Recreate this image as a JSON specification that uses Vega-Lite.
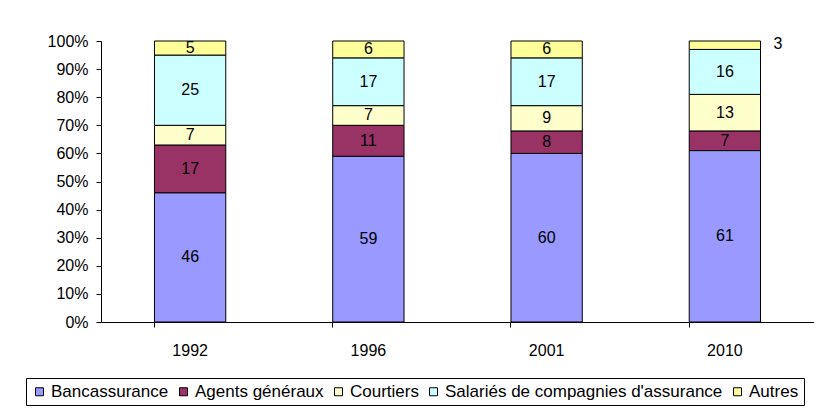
{
  "$schema": "https://vega.github.io/schema/vega-lite/v6.json",
  "width": 713,
  "height": 281,
  "autosize": {"type": "none"},
  "padding": {"left": 101, "top": 41, "right": 0, "bottom": 86},
  "background": "white",
  "config": {
    "font": "Liberation Sans",
    "view": {"stroke": null},
    "axis": {"labelColor": "black", "domainColor": "black", "tickColor": "black", "labelFont": "Liberation Sans", "labelFontSize": 16, "labelOverlap": false},
    "axisY": {"format": ".0%", "values": [0, 0.1, 0.2, 0.3, 0.4, 0.5, 0.6, 0.7, 0.8, 0.9, 1], "grid": false, "tickSize": 5, "labelPadding": 8}
  },
  "data": {
    "values": [
      {"year": "1992", "serie": "Bancassurance", "value": 46},
      {"year": "1992", "serie": "Agents généraux", "value": 17},
      {"year": "1992", "serie": "Courtiers", "value": 7},
      {"year": "1992", "serie": "Salariés de compagnies d'assurance", "value": 25},
      {"year": "1992", "serie": "Autres", "value": 5},
      {"year": "1996", "serie": "Bancassurance", "value": 59},
      {"year": "1996", "serie": "Agents généraux", "value": 11},
      {"year": "1996", "serie": "Courtiers", "value": 7},
      {"year": "1996", "serie": "Salariés de compagnies d'assurance", "value": 17},
      {"year": "1996", "serie": "Autres", "value": 6},
      {"year": "2001", "serie": "Bancassurance", "value": 60},
      {"year": "2001", "serie": "Agents généraux", "value": 8},
      {"year": "2001", "serie": "Courtiers", "value": 9},
      {"year": "2001", "serie": "Salariés de compagnies d'assurance", "value": 17},
      {"year": "2001", "serie": "Autres", "value": 6},
      {"year": "2010", "serie": "Bancassurance", "value": 61},
      {"year": "2010", "serie": "Agents généraux", "value": 7},
      {"year": "2010", "serie": "Courtiers", "value": 13},
      {"year": "2010", "serie": "Salariés de compagnies d'assurance", "value": 16},
      {"year": "2010", "serie": "Autres", "value": 3}
    ]
  },
  "transform": [
    {"calculate": "indexof(['Bancassurance','Agents généraux','Courtiers','Salariés de compagnies d\\'assurance','Autres'], datum.serie)", "as": "ord"},
    {"stack": "value", "groupby": ["year"], "sort": [{"field": "ord", "order": "ascending"}], "offset": "normalize", "as": ["y0", "y1"]},
    {"calculate": "(datum.y0 + datum.y1) / 2", "as": "ymid"}
  ],
  "encoding": {
    "x": {
      "field": "year", "type": "nominal", "title": null,
      "scale": {"paddingInner": 0.6, "paddingOuter": 0.3},
      "axis": {"labelAngle": 0, "bandPosition": 0, "tickSize": 5, "labelPadding": 15, "domainWidth": 1}
    }
  },
  "layer": [
    {
      "mark": {"type": "bar", "stroke": "black", "strokeWidth": 1},
      "encoding": {
        "y": {"field": "y1", "type": "quantitative", "title": null, "scale": {"domain": [0, 1], "nice": false}},
        "y2": {"field": "y0"},
        "color": {
          "field": "serie", "type": "nominal",
          "scale": {"domain": ["Bancassurance", "Agents généraux", "Courtiers", "Salariés de compagnies d'assurance", "Autres"],
                    "range": ["#9999FF", "#993366", "#FFFFCC", "#CCFFFF", "#FFFF99"]},
          "legend": {
            "title": null, "orient": "none", "legendX": -75, "legendY": 337, "direction": "horizontal", "columns": 5,
            "symbolType": "square", "symbolSize": 64, "symbolStrokeColor": "black", "symbolStrokeWidth": 1,
            "labelFontSize": 17, "labelFont": "Liberation Sans", "labelColor": "black", "labelOffset": 3, "labelLimit": 500,
            "columnPadding": 6, "strokeColor": "black", "padding": 5, "fillColor": "white"
          }
        }
      }
    },
    {
      "transform": [{"filter": "datum.value >= 4"}],
      "mark": {"type": "text", "fontSize": 16, "font": "Liberation Sans", "color": "black", "align": "center", "baseline": "middle"},
      "encoding": {
        "y": {"field": "ymid", "type": "quantitative", "title": null},
        "text": {"field": "value", "type": "quantitative"}
      }
    },
    {
      "transform": [{"filter": "datum.value < 4"}],
      "mark": {"type": "text", "fontSize": 16, "font": "Liberation Sans", "color": "black", "align": "center", "baseline": "middle", "dx": 53, "dy": -1},
      "encoding": {
        "y": {"field": "ymid", "type": "quantitative", "title": null},
        "text": {"field": "value", "type": "quantitative"}
      }
    }
  ]
}
